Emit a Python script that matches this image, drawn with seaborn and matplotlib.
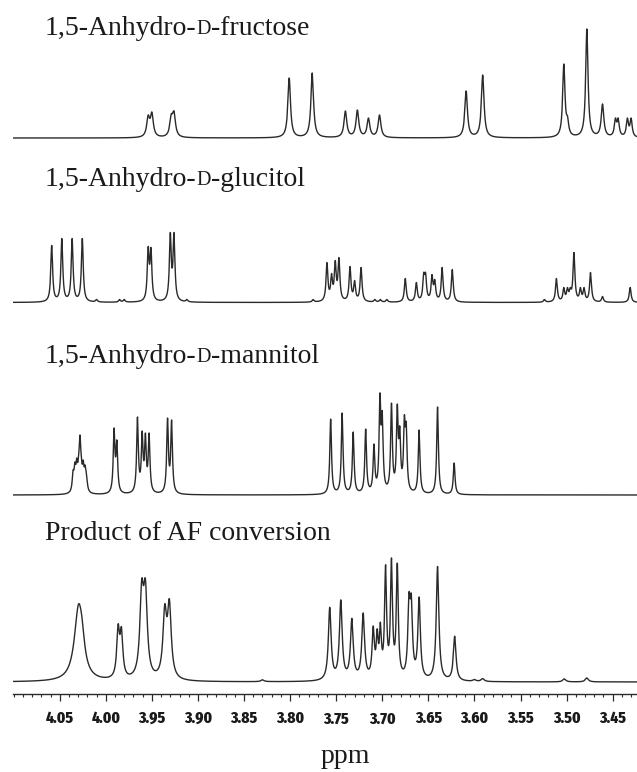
import numpy as np
import matplotlib
matplotlib.use("Agg")
import matplotlib.pyplot as plt
import seaborn as sns
from matplotlib.ticker import MultipleLocator, FormatStrFormatter

# peak lists: centre (ppm), height (px above baseline), half width (ppm)
fructose_ppm = [3.954, 3.950, 3.929, 3.926, 3.801, 3.776, 3.740, 3.727, 3.715, 3.703,
                3.609, 3.591, 3.503, 3.499, 3.478, 3.461, 3.447, 3.444, 3.434, 3.430]
fructose_int = [23, 26, 24, 27, 60, 65, 27, 28, 20, 23,
                47, 63, 74, 22, 109, 34, 20, 20, 20, 20]
fructose_hw = [.0019, .0019, .0019, .0019, .0017, .0017, .0018, .0018, .0018, .0018,
               .0017, .0017, .0015, .0015, .0015, .0017, .0014, .0014, .0014, .0014]

glucitol_ppm = [4.0587, 4.0477, 4.0365, 4.0255, 4.010, 3.985, 3.980, 3.954, 3.951, 3.930, 3.926,
                3.912, 3.775, 3.760, 3.755, 3.751, 3.747, 3.735, 3.730, 3.723, 3.708, 3.702,
                3.695, 3.675, 3.663, 3.655, 3.653, 3.646, 3.643, 3.635, 3.624, 3.524, 3.511,
                3.503, 3.499, 3.496, 3.492, 3.485, 3.481, 3.474, 3.461, 3.431]
glucitol_int = [57, 64, 64, 64, 3, 3, 3, 56, 55, 70, 70,
                3, 3, 40, 29, 42, 45, 36, 22, 35, 3, 3,
                3, 24, 20, 30, 30, 28, 23, 35, 33, 3, 24,
                15, 15, 15, 50, 15, 15, 30, 6, 15]
glucitol_hw = 0.0012

mannitol_ppm = [4.0355, 4.0335, 4.0315, 4.0295, 4.028, 4.0265, 4.0245, 4.0225, 4.021,
                3.991, 3.988, 3.9656, 3.9605, 3.957, 3.953, 3.933, 3.9286, 3.756, 3.7435,
                3.7315, 3.718, 3.709, 3.7025, 3.700, 3.690, 3.6837, 3.681, 3.676, 3.674,
                3.660, 3.640, 3.622]
mannitol_int = [25, 33, 37, 40, 60, 38, 35, 30, 22,
                67, 55, 78, 64, 62, 62, 77, 75, 76, 82,
                63, 66, 51, 102, 84, 92, 91, 69, 80, 73,
                65, 88, 32]
mannitol_hw = 0.0011

product_ppm = [4.0295, 4.0255, 3.9866, 3.983, 3.961, 3.957, 3.936, 3.931, 3.830, 3.757,
               3.745, 3.733, 3.7207, 3.7098, 3.7055, 3.702, 3.6964, 3.690, 3.6837, 3.671,
               3.6685, 3.660, 3.640, 3.6214, 3.600, 3.591, 3.5025, 3.478, 3.688]
product_int = [78, 62, 58, 55, 103, 103, 78, 83, 2, 74,
               81, 62, 66, 50, 45, 49, 100, 99, 96, 81,
               81, 81, 114, 45, 2, 3, 3, 4, 22]
product_hw = [.0055, .003, .0018, .0018, .0024, .0024, .0024, .0024, .002, .0018,
              .0018, .0018, .0018, .0015, .0013, .0013, .0013, .0013, .0013, .0015,
              .0015, .0016, .0017, .0017, .002, .002, .002, .002, .012]

titles = [["1,5-Anhydro-", "D", "-fructose"],
          ["1,5-Anhydro-", "D", "-glucitol"],
          ["1,5-Anhydro-", "D", "-mannitol"],
          ["Product of AF conversion"]]
tick_values = [4.05, 4.00, 3.95, 3.90, 3.85, 3.80, 3.75, 3.70, 3.65, 3.60, 3.55, 3.50, 3.45]


def spectrum(x, centres, heights, hw):
    c = np.asarray(centres, float)
    h = np.asarray(heights, float)
    w = np.broadcast_to(np.asarray(hw, float), c.shape)
    # amplitudes so that the summed curve hits the read heights at the centres
    m = 1.0 / (1.0 + ((c[:, None] - c[None, :]) / w[None, :]) ** 2)
    a = np.clip(np.linalg.solve(m, h), 0, None)
    return (a[None, :] / (1.0 + ((x[:, None] - c[None, :]) / w[None, :]) ** 2)).sum(axis=1)


sns.set_style("white")
plt.rcParams["font.family"] = ["Liberation Serif", "DejaVu Serif"]

W, H = 637, 772
fig = plt.figure(figsize=(W / 100, H / 100), dpi=100)
x = np.linspace(3.40, 4.12, 9000)

panels = [(fructose_ppm, fructose_int, fructose_hw, 138, 35),
          (glucitol_ppm, glucitol_int, glucitol_hw, 302.5, 186),
          (mannitol_ppm, mannitol_int, mannitol_hw, 495, 363),
          (product_ppm, product_int, product_hw, 682, 540)]

axes = []
for i, (pp, ii, hw, base, ty) in enumerate(panels):
    bottom = 694 if i == 3 else base + 6
    top = base - 125
    ax = fig.add_axes([13 / W, 1 - bottom / H, 624 / W, (bottom - top) / H])
    ax.patch.set_alpha(0)
    y = spectrum(x, pp, ii, hw)
    sns.lineplot(x=x, y=y, ax=ax, color="#2a2a2a", linewidth=1.0,
                 estimator=None, sort=False)
    ax.set_xlim(4.1007, 3.4236)
    ax.set_ylim(-(bottom - base), base - top)
    ax.set_yticks([])
    ax.set_xlabel("")
    ax.set_ylabel("")
    for s in ["left", "right", "top", "bottom"]:
        ax.spines[s].set_visible(False)
    if i < 3:
        ax.set_xticks([])
    axes.append(ax)

    # title, with a small-capital D
    parts = titles[i]
    t = fig.text(45 / W, 1 - ty / H, parts[0], fontsize=20, va="baseline", ha="left",
                 color="#1a1a1a")
    if len(parts) == 3:
        t2 = ax.annotate(parts[1], xy=(1, 0), xycoords=t, xytext=(0, 1.2),
                         textcoords="offset points", fontsize=14.4, va="bottom",
                         ha="left", annotation_clip=False, color="#1a1a1a")
        ax.annotate(parts[2], xy=(1, 0), xycoords=t2, xytext=(0, -1.2),
                    textcoords="offset points", fontsize=20, va="bottom",
                    ha="left", annotation_clip=False, color="#1a1a1a")

ax = axes[-1]
ax.spines["bottom"].set_visible(True)
ax.spines["bottom"].set_color("#2a2a2a")
ax.spines["bottom"].set_linewidth(1.0)
ax.set_xticks(tick_values)
ax.xaxis.set_major_formatter(FormatStrFormatter("%.2f"))
ax.xaxis.set_minor_locator(MultipleLocator(0.01))
ax.tick_params(axis="x", which="major", direction="out", length=5, width=0.9,
               color="#2a2a2a", pad=7, bottom=True)
ax.tick_params(axis="x", which="minor", direction="out", length=2.5, width=0.8,
               color="#2a2a2a", bottom=True)
for lab in ax.get_xticklabels():
    lab.set_family(["Fira Sans Extra Condensed", "DejaVu Sans"])
    lab.set_fontweight(800)
    lab.set_fontsize(12)
    lab.set_color("#1a1a1a")

fig.text(345 / W, 1 - 763 / H, "ppm", fontsize=20, ha="center", va="baseline",
         color="#1a1a1a")

fig.savefig("out.png", dpi=100)
